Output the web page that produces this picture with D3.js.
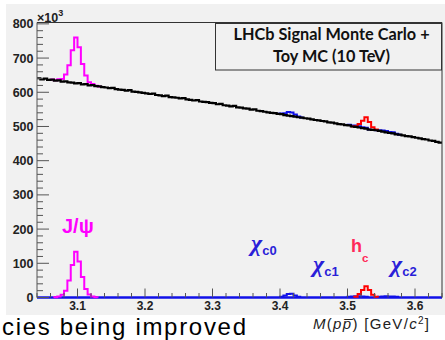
<!DOCTYPE html>
<html><head><meta charset="utf-8">
<script src="https://cdn.jsdelivr.net/npm/d3@7"></script>
<style>body{margin:0;background:#fff;} svg{display:block}</style>
</head><body><svg id="c" width="445" height="340"></svg>
<script>
// ---- data ----
const binLow = 3.04, binWidth = 0.005;
const background = [
 641,638,640,636,637,634,635,631,632,629,
 628,626,627,623,624,620,621,618,617,615,
 614,612,613,609,608,607,605,606,602,601,
 600,598,597,595,596,592,591,589,590,586,
 585,584,582,583,579,578,576,577,573,572,
 571,569,568,565,566,562,561,559,560,556,
 555,553,552,549,550,546,545,543,541,540,
 539,537,536,533,532,530,529,527,526,524,
 523,521,519,518,516,515,512,511,509,507,
 506,504,503,500,499,497,495,494,491,490,
 489,487,485,483,481,480,477,476,474,472,
 471,469,467,465,463,462,459,458,455,453];
const jpsiStart = 5,   jpsi  = [1,3,8,20,50,95,134,105,60,25,9,3,1];
const chic0Start = 72, chic0 = [2,6,10,11,6,2];
const chic1Start = 92, chic1 = [2,3,4,4,3,2];
const hcStart = 94,    hc    = [2,10,22,33,22,8,2];
const chic2Start = 101,chic2 = [2,3,4,3,3,2];
const xTicks = [3.1,3.2,3.3,3.4,3.5,3.6];
const yTicks = [0,100,200,300,400,500,600,700,800];

// ---- layout ----
const svg = d3.select("#c");
const L = 37, R = 442, T = 22.5, B = 297.5;
const x = d3.scaleLinear().domain([3.04, 3.64]).range([L, R]);
const y = d3.scaleLinear().domain([0, 804]).range([B, T]);
const nb = background.length;
const edge = i => binLow + i * binWidth;

svg.append("rect").attr("x",6).attr("y",4).attr("width",439).attr("height",311).attr("fill","#f1f1f1");

function full(start, vals){ const a = new Array(nb).fill(0); vals.forEach((v,i)=>a[start+i]=v); return a; }
const S = {
  jpsi: {a: full(jpsiStart,jpsi), s:jpsiStart, n:jpsi.length, c:"#ff00ff"},
  chic0:{a: full(chic0Start,chic0), s:chic0Start, n:chic0.length, c:"#1010e8"},
  chic1:{a: full(chic1Start,chic1), s:chic1Start, n:chic1.length, c:"#1010e8"},
  chic2:{a: full(chic2Start,chic2), s:chic2Start, n:chic2.length, c:"#1010e8"},
  hc:   {a: full(hcStart,hc), s:hcStart, n:hc.length, c:"#ff0000"}
};

function stepPath(vals, a, b, startV, endV){
  const p = d3.path();
  p.moveTo(x(edge(a)), y(startV));
  for(let i=a;i<b;i++){ p.lineTo(x(edge(i)), y(vals[i])); p.lineTo(x(edge(i+1)), y(vals[i])); }
  p.lineTo(x(edge(b)), y(endV));
  return p.toString();
}

const g = svg.append("g");
["jpsi","chic0","chic1","chic2","hc"].forEach(k=>{
  const s = S[k];
  const a = Math.max(0,s.s-1), b = Math.min(nb, s.s+s.n+1);
  const sum = background.map((v,i)=>v + s.a[i]);
  g.append("path").attr("d", stepPath(sum,a,b,sum[a],sum[b-1]))
    .attr("fill","none").attr("stroke",s.c).attr("stroke-width",2);
});
g.append("path").attr("d", stepPath(background,0,nb,background[0],background[nb-1]))
  .attr("fill","none").attr("stroke","#000").attr("stroke-width",2.2);

g.append("line").attr("x1",L).attr("x2",R).attr("y1",y(0)).attr("y2",y(0))
  .attr("stroke","#1010e8").attr("stroke-width",2.5);
["jpsi","chic0","chic1","chic2","hc"].forEach(k=>{
  const s = S[k];
  g.append("path").attr("d", stepPath(s.a, s.s, s.s+s.n, 0, 0))
    .attr("fill","none").attr("stroke",s.c).attr("stroke-width",2);
});

// ---- axes ----
const ax = svg.append("g");
const tickC = "#555";
ax.append("line").attr("x1",L).attr("x2",L).attr("y1",T).attr("y2",B).attr("stroke",tickC);
ax.append("line").attr("x1",L).attr("x2",R).attr("y1",T).attr("y2",T).attr("stroke","#333");
ax.append("line").attr("x1",R).attr("x2",R).attr("y1",T).attr("y2",B).attr("stroke","#333");
d3.range(0, 801, 20).forEach(v=>{
  const major = v % 100 === 0;
  ax.append("line").attr("x1",L).attr("x2",L+(major?12:6)).attr("y1",y(v)).attr("y2",y(v)).attr("stroke",tickC);
});
d3.range(0, 31).forEach(i=>{
  const v = 3.04 + i*0.02;
  const major = Math.abs(Math.round(v*10)/10 - v) < 1e-6;
  ax.append("line").attr("x1",x(v)).attr("x2",x(v)).attr("y1",B).attr("y2",B-(major?9:4.5)).attr("stroke",tickC);
});
const font = "Liberation Sans, Arial, sans-serif";
yTicks.forEach(v=>{
  ax.append("text").attr("x",33.5).attr("y",y(v)+4.5).attr("text-anchor","end")
    .attr("font-family",font).attr("font-weight","bold").attr("font-size",12.5).attr("fill","#222").text(v);
});
xTicks.forEach(v=>{
  ax.append("text").attr("x",x(v)).attr("y",310).attr("text-anchor","middle")
    .attr("font-family",font).attr("font-weight","bold").attr("font-size",12).attr("fill","#222").text(v.toFixed(1));
});
const e3 = ax.append("text").attr("x",37).attr("y",22).attr("font-family",font).attr("font-weight","bold").attr("font-size",12.5).attr("fill","#222");
e3.append("tspan").text("×10");
e3.append("tspan").attr("dy",-6).attr("font-size",9).text("3");

// axis title
const at = svg.append("text").attr("x",313).attr("y",328.5).attr("font-family",font).attr("font-size",15)
  .attr("fill","#222").attr("textLength",116).attr("lengthAdjust","spacing");
at.append("tspan").attr("font-style","italic").text("M");
at.append("tspan").text("(");
at.append("tspan").attr("font-style","italic").text("pp\u0305");
at.append("tspan").text(") [GeV/");
at.append("tspan").attr("font-style","italic").text("c");
at.append("tspan").attr("dy",-5).attr("font-size",10).text("2");
at.append("tspan").attr("dy",5).text("]");

// legend box
svg.append("rect").attr("x",215.5).attr("y",23.5).attr("width",226).attr("height",46.5)
  .attr("fill","#f1f1f1").attr("stroke","#333");
const lf = "Lato, Open Sans, sans-serif";
svg.append("text").attr("x",331.5).attr("y",40).attr("text-anchor","middle").attr("font-family",lf)
  .attr("font-weight","bold").attr("font-size",16.3).attr("fill","#111").text("LHCb Signal Monte Carlo +");
svg.append("text").attr("x",331.5).attr("y",62).attr("text-anchor","middle").attr("font-family",lf)
  .attr("font-weight","bold").attr("font-size",16.3).attr("fill","#111").text("Toy MC (10 TeV)");

// peak labels
svg.append("text").attr("x",62).attr("y",233).attr("font-family",font).attr("font-weight","bold")
  .attr("font-size",20).attr("fill","#ff00ff").text("J/ψ");
function chi(xp, yp, sub){
  const t = svg.append("text").attr("x",xp).attr("y",yp).attr("font-family","Liberation Serif, serif")
    .attr("font-weight","bold").attr("font-style","italic").attr("font-size",24).attr("fill","#2a1ed8");
  t.append("tspan").text("χ");
  t.append("tspan").attr("dy",4).attr("font-family",font).attr("font-style","normal").attr("font-size",13).text(sub);
}
chi(251, 251, "c0");
chi(313, 272, "c1");
chi(391, 272, "c2");
const h = svg.append("text").attr("x",351).attr("y",251.7).attr("font-family",font).attr("font-weight","bold")
  .attr("font-size",18).attr("fill","#ff2a5a");
h.append("tspan").text("h");
h.append("tspan").attr("dy",10).attr("font-size",11.5).text("c");

// slide text at bottom (cut off in the original)
svg.append("text").attr("x",2).attr("y",335).attr("font-family",font).attr("font-size",24).attr("fill","#000")
  .attr("textLength",244).attr("lengthAdjust","spacing")
  .text("cies being improved");
</script></body></html>
